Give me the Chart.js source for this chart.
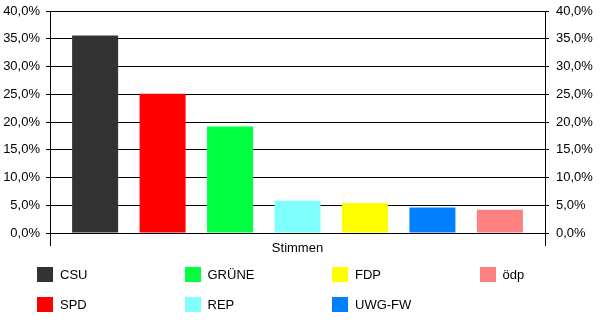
<!DOCTYPE html>
<html>
<head>
<meta charset="utf-8">
<script src="https://cdn.jsdelivr.net/npm/chart.js@4/dist/chart.umd.min.js"></script>
<style>
  body { margin: 0; background: #fff; }
  #wrap { position: relative; width: 600px; height: 326px; }
  #legend { position: absolute; left: 0; top: 0; width: 600px; height: 326px; pointer-events: none;
            font-family: "Liberation Sans", Arial, sans-serif; font-size: 13px; color: #000; }
  .item { position: absolute; height: 15px; line-height: 15px; white-space: nowrap; }
  .box { position: absolute; left: 0; top: 0; width: 16px; height: 15px; }
  .lbl { position: absolute; left: 23px; top: 0; }
</style>
</head>
<body>
<div id="wrap">
  <canvas id="chart" width="600" height="326"></canvas>
  <div id="legend"></div>
</div>
<script>
// Stimmenanteile in Prozent
const parties = ["CSU", "SPD", "GRÜNE", "REP", "FDP", "UWG-FW", "ödp"];
const shares = [35.6, 25.1, 19.2, 5.8, 5.4, 4.6, 4.2];
const colors = ["#333333", "#ff0000", "#00ff40", "#80ffff", "#ffff00", "#0080ff", "#ff8080"];
const category = ["Stimmen"];

const fmt = v => v.toFixed(1).replace('.', ',') + '%';
const font = { family: "'Liberation Sans', Arial, sans-serif", size: 13 };

const datasets = parties.map((p, i) => ({
    label: p,
    data: [shares[i]],
    backgroundColor: colors[i],
    borderWidth: 0,
    categoryPercentage: 0.954,
    barPercentage: 0.682
}));

new Chart(document.getElementById('chart'), {
    type: 'bar',
    data: { labels: category, datasets: datasets },
    options: {
        responsive: false,
        animation: false,
        layout: { padding: { top: 11, bottom: 63, left: 0, right: 0 } },
        plugins: { legend: { display: false }, tooltip: { enabled: false } },
        scales: {
            x: {
                grid: { offset: true, drawOnChartArea: false, color: '#000', tickLength: 13, lineWidth: 1 },
                border: { display: false },
                ticks: { color: '#000', font: font, padding: -5 },
                afterFit: s => { s.height = 30; }
            },
            y: {
                position: 'left',
                min: 0, max: 40,
                ticks: { stepSize: 5, color: '#000', font: font, padding: 6, callback: fmt },
                grid: { color: '#000', tickLength: 4, lineWidth: 1 },
                border: { color: '#000', width: 1 },
                afterFit: s => { s.width = 50; s.paddingTop = 0; s.paddingBottom = 0; }
            },
            y2: {
                position: 'right',
                min: 0, max: 40,
                ticks: { stepSize: 5, color: '#000', font: font, padding: 7, callback: fmt },
                grid: { drawOnChartArea: false, color: '#000', tickLength: 4, lineWidth: 1 },
                border: { color: '#000', width: 1 },
                afterFit: s => { s.width = 55; s.paddingTop = 0; s.paddingBottom = 0; }
            }
        }
    }
});

// legend: 4 columns, 2 rows, filled column by column
const legend = document.getElementById('legend');
parties.forEach((p, i) => {
    const col = Math.floor(i / 2), row = i % 2;
    const item = document.createElement('div');
    item.className = 'item';
    item.style.left = (37 + col * 147.5) + 'px';
    item.style.top = (267 + row * 30) + 'px';
    item.innerHTML = '<span class="box" style="background:' + colors[i] + '"></span><span class="lbl">' + p + '</span>';
    legend.appendChild(item);
});
</script>
</body>
</html>
